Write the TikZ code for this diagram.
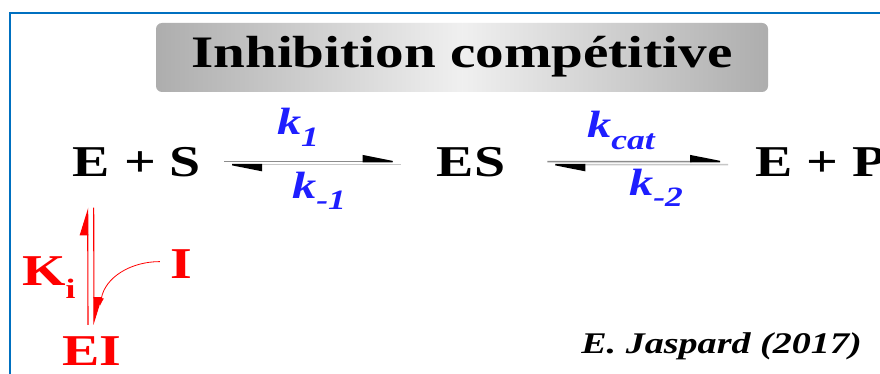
\documentclass[tikz,border=0pt]{standalone}
\usepackage{fontspec}
\setmainfont{Liberation Serif}
\usetikzlibrary{arrows.meta, positioning}
\definecolor{fblue}{HTML}{0070C0}
\definecolor{kblue}{HTML}{1E1EFF}
\definecolor{ired}{HTML}{FF0000}
\newcommand{\ksub}[1]{\raisebox{-0.3em}{\fontsize{28}{30}\selectfont #1}}
\tikzset{
  spec/.style={font=\fontsize{44}{48}\selectfont\bfseries, xscale=1.27, inner sep=0pt},
  rate/.style={font=\fontsize{38}{40}\selectfont\bfseries\itshape, text=kblue, xscale=1.27, inner sep=0pt},
  inh/.style={spec, text=ired},
  harp/.style={line width=1.5pt, -{Triangle[left,length=34pt,width=13pt,color=black]}},
  fwd/.style={harp, draw=black!45},
  bwd/.style={harp, draw=black!22},
  redharp/.style={draw=ired, line width=1.1pt, -{Triangle[left,length=26pt,width=16pt]}},
  titlebox/.style={rounded corners=6pt, minimum width=612pt, minimum height=69pt,
    left color=black!32, right color=black!32, middle color=black!6},
  frameln/.style={draw=fblue, line width=2.4pt}
}
\begin{document}
\begin{tikzpicture}[x=1pt, y=-1pt]
  \useasboundingbox[fill=white] (0,0) rectangle (880,374);
  \draw[frameln] (10,390) |- (900,13);
  % title
  \node[titlebox] (tbox) at (462,57.5) {};
  \node[spec, anchor=base, font=\fontsize{45}{50}\selectfont\bfseries] (title) at ([yshift=-10.5pt]tbox.center) {Inhibition compétitive};
  % main reaction
  \node[spec, anchor=base] (es1) at (137,177) {E + S};
  \node[spec, anchor=base] (es) at (471,177) {ES};
  \node[spec, anchor=base west] (ep) at (755,177) {E + P};
  \draw[fwd] ([xshift=23pt,yshift=1pt]es1.east) -- ([xshift=-36pt,yshift=1pt]es.west);
  \draw[bwd] ([xshift=-36pt,yshift=-2pt]es.west) -- ([xshift=23pt,yshift=-2pt]es1.east);
  \draw[fwd] ([xshift=42pt,yshift=1pt]es.east) -- ([xshift=-27pt,yshift=1pt]ep.west);
  \draw[bwd] ([xshift=-27pt,yshift=-2pt]ep.west) -- ([xshift=42pt,yshift=-2pt]es.east);
  \node[rate, anchor=base] (k1) at (298,135) {k\ksub{1}};
  \node[rate, anchor=base] (km1) at (319,198) {k\ksub{-1}};
  \node[rate, anchor=base] (kcat) at (621,138) {k\ksub{cat}};
  \node[rate, anchor=base] (km2) at (656,195) {k\ksub{-2}};
  % inhibitor
  \node[inh, anchor=base] (ei) at (92,365) {EI};
  \node[inh, anchor=base west] (ki) at (22,285) {K\ksub{i}};
  \node[inh, anchor=base] (inh) at (181,278) {I};
  \draw[redharp] ([xshift=-4pt,yshift=11pt]ei.north) -- ([xshift=15pt,yshift=-30pt]es1.south west);
  \draw[redharp] ([xshift=21pt,yshift=-30pt]es1.south west) -- ([xshift=2pt,yshift=11pt]ei.north);
  \draw[draw=ired, line width=0.8pt, -{Latex[length=8pt,width=5pt]}] ([xshift=-10pt,yshift=2pt]inh.west) to[out=180,in=80] ([xshift=8pt,yshift=30pt]ei.north);
  % signature
  \node[anchor=base east, font=\fontsize{30}{32}\selectfont\bfseries\itshape, xscale=1.27, inner sep=0pt] (sig) at (862,353) {E. Jaspard (2017)};
\end{tikzpicture}
\end{document}
